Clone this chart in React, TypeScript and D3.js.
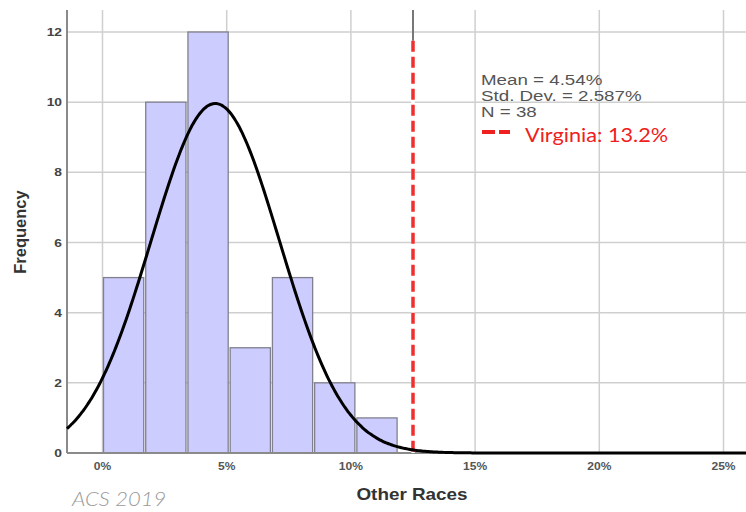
import React from "react";
import * as d3 from "d3";

const binStarts = [0, 1.7, 3.4, 5.1, 6.8, 8.5, 10.2];
const binCounts = [5, 10, 12, 3, 5, 2, 1];
const binWidth = 1.7;
const xTicks = [0, 5, 10, 15, 20, 25];
const yTicks = [0, 2, 4, 6, 8, 10, 12];
const meanVal = 4.54;
const sdVal = 2.587;
const nVal = 38;
const virginiaLineAt = 12.5;
const virginiaLabel = "Virginia: 13.2%";
const statsLines = ["Mean = 4.54%", "Std. Dev. = 2.587%", "N = 38"];

const W = 746;
const H = 512;
const SANS = "Liberation Sans, Arial, sans-serif";

function SText(props: {
  x: number;
  y: number;
  sx: number;
  anchor?: string;
  dy?: string;
  size: number;
  weight?: string;
  fill: string;
  family?: string;
  italic?: boolean;
  children: React.ReactNode;
}) {
  return (
    <text
      transform={`translate(${props.x},${props.y}) scale(${props.sx},1)`}
      textAnchor={props.anchor || "start"}
      dy={props.dy}
      fontFamily={props.family || SANS}
      fontWeight={props.weight || "normal"}
      fontStyle={props.italic ? "italic" : "normal"}
      fontSize={props.size}
      fill={props.fill}
    >
      {props.children}
    </text>
  );
}

export default function App() {
  const x = d3.scaleLinear().domain([0, 25]).range([102.5, 723.5]);
  const y = d3.scaleLinear().domain([0, 12]).range([453, 32]);
  const left = 67;
  const right = W;
  const top = 10;
  const bottom = y(0);
  const xMin = x.invert(left);
  const xMax = x.invert(right);

  const peak = (nVal * binWidth) / (sdVal * Math.sqrt(2 * Math.PI));
  const curvePts: [number, number][] = d3
    .range(0, 401)
    .map((i) => xMin + ((xMax - xMin) * i) / 400)
    .map((v) => [v, peak * Math.exp(-0.5 * ((v - meanVal) / sdVal) ** 2)]);
  const line = d3
    .line<[number, number]>()
    .x((d) => x(d[0]))
    .y((d) => y(d[1]))
    .curve(d3.curveBasis);

  const vx = x(virginiaLineAt);

  return (
    <svg
      width={W}
      height={H}
      style={{ position: "absolute", left: 0, top: 0, background: "#fff" }}
    >
      {/* gridlines */}
      {yTicks.filter((t) => t > 0).map((t) => (
        <line key={"gy" + t} x1={left} x2={right} y1={y(t)} y2={y(t)} stroke="#cfcfcf" strokeWidth={1.5} />
      ))}
      {xTicks.map((t) => (
        <line key={"gx" + t} x1={x(t)} x2={x(t)} y1={top} y2={bottom} stroke="#cfcfcf" strokeWidth={1.5} />
      ))}
      {/* bars */}
      {binStarts.map((b, i) => (
        <rect
          key={"b" + i}
          x={x(b) + 1}
          y={y(binCounts[i])}
          width={x(b + binWidth) - x(b) - 2}
          height={y(0) - y(binCounts[i])}
          fill="#ccccff"
          stroke="#80808f"
          strokeWidth={1.3}
        />
      ))}
      {/* axes */}
      <line x1={left} x2={left} y1={top} y2={bottom} stroke="#8a8a8a" strokeWidth={2} />
      <line x1={left} x2={right} y1={bottom} y2={bottom} stroke="#8a8a8a" strokeWidth={2} />
      {/* reference line */}
      <line x1={vx} x2={vx} y1={top} y2={bottom} stroke="#777" strokeWidth={2} />
      <line x1={vx} x2={vx} y1={y(11.75)} y2={bottom} stroke="#fff" strokeWidth={3.5} />
      <line
        x1={vx}
        x2={vx}
        y1={y(11.75)}
        y2={bottom}
        stroke="#f03030"
        strokeWidth={3.5}
        strokeDasharray="11 5"
      />
      {/* normal curve */}
      <path d={line(curvePts) || ""} fill="none" stroke="#000" strokeWidth={3} />
      {/* y tick labels */}
      {yTicks.map((t) => (
        <SText key={"ty" + t} x={62} y={y(t)} dy="0.35em" sx={1.2} anchor="end" size={11.5} weight="bold" fill="#444">
          {t}
        </SText>
      ))}
      {xTicks.map((t) => (
        <SText key={"tx" + t} x={x(t)} y={470} sx={1.15} anchor="middle" size={10.5} weight="bold" fill="#555">
          {t + "%"}
        </SText>
      ))}
      {/* axis titles */}
      <text
        transform={`translate(26,232) rotate(-90)`}
        textAnchor="middle"
        fontFamily={SANS}
        fontWeight="bold"
        fontSize={16.5}
        fill="#333"
      >
        Frequency
      </text>
      <SText x={412} y={500} sx={1.18} anchor="middle" size={16} weight="bold" fill="#333">
        Other Races
      </SText>
      {/* stats */}
      {statsLines.map((s, i) => (
        <SText key={"s" + i} x={481} y={85 + i * 16} sx={1.25} size={15} fill="#555">
          {s}
        </SText>
      ))}
      <line x1={482} x2={495} y1={132} y2={132} stroke="#f02020" strokeWidth={4} />
      <line x1={499} x2={510} y1={132} y2={132} stroke="#f02020" strokeWidth={4} />
      <SText x={525} y={142} sx={1.14} size={19} weight="normal" family="Lato, sans-serif" fill="#f02020">
        {virginiaLabel}
      </SText>
      <SText x={72} y={506} sx={1.1} size={20} weight="300" italic family="Lato, sans-serif" fill="#9a9a9a">
        ACS 2019
      </SText>
    </svg>
  );
}
